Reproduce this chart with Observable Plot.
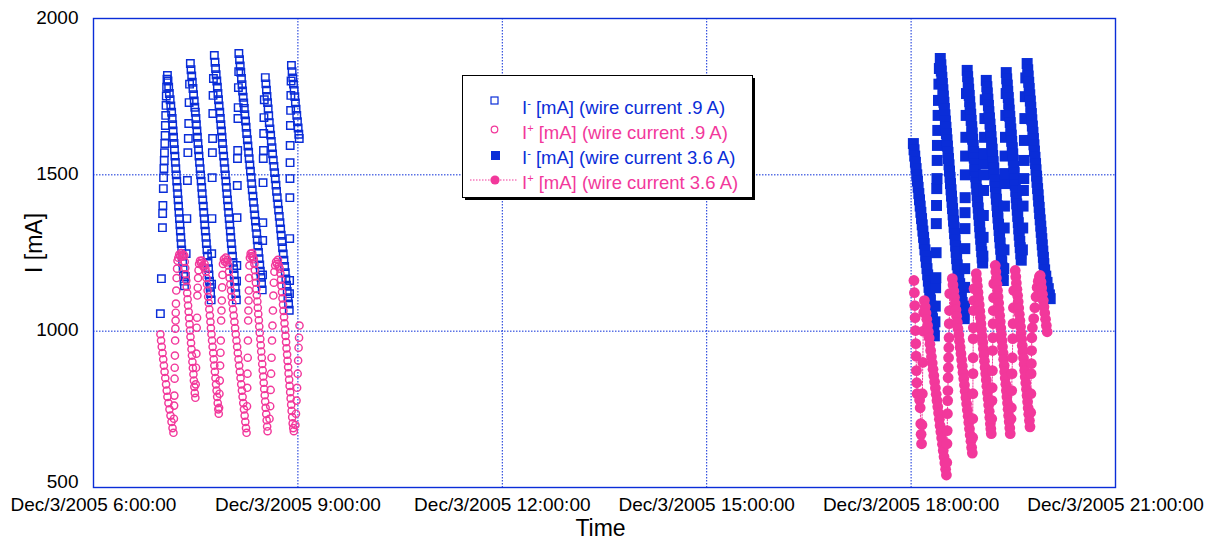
<!DOCTYPE html>
<html>
<head>
<meta charset="utf-8">
<script src="https://cdn.jsdelivr.net/npm/d3@7"></script>
<script src="https://cdn.jsdelivr.net/npm/@observablehq/plot@0.6"></script>
<style>
  body { margin: 0; background: #fff; }
  #chart { position: relative; width: 1207px; height: 542px; font-family: "Liberation Sans", Arial, Helvetica, sans-serif; }
  #legend { position: absolute; left: 0; top: 0; pointer-events: none; }
</style>
</head>
<body>
<div id="chart"></div>
<script>
// Time values are minutes after Dec/3/2005 6:00:00; currents in mA.

// I- at wire current 0.9 A (open squares)
const iMinus09 = [
  [58.9,1056],[59.8,1168],[60.7,1331],[60.9,1376],[61.1,1402],[61.5,1456],[61.7,1491],[62.0,1520],[62.3,1546],[62.5,1571],[62.8,1600],[63.1,1626],[63.3,1658],[63.6,1690],[63.9,1722],[64.1,1752],[64.4,1780],[64.7,1806],
  [65.1,1818],[65.6,1800],[66.2,1780],[66.8,1760],[67.5,1740],[68.1,1720],[68.8,1700],[69.3,1680],[69.7,1660],[70.1,1640],[70.5,1620],[70.9,1600],[71.3,1580],[71.7,1560],[72.1,1540],[72.5,1520],[72.9,1500],[73.3,1480],[73.7,1460],[74.1,1440],[74.5,1420],[74.9,1400],[75.3,1380],[75.7,1360],[76.1,1340],[76.5,1320],[76.9,1300],[77.3,1280],[77.7,1260],[78.1,1240],[78.5,1220],[78.9,1200],[79.3,1180],[79.7,1160],[80.1,1145],
  [80.9,1175],[81.6,1248],[82.2,1360],[82.7,1482],[83.1,1571],[83.5,1616],[83.9,1664],[84.2,1731],[84.6,1790],
  [85.3,1856],[85.9,1836],[86.5,1816],[87.0,1796],[87.6,1776],[88.1,1756],[88.7,1736],[89.2,1716],[89.7,1700],[90.2,1680],[90.6,1660],[91.1,1640],[91.5,1620],[92.0,1600],[92.5,1580],[92.9,1560],[93.4,1540],[93.9,1520],[94.3,1500],[94.8,1480],[95.3,1460],[95.7,1440],[96.2,1420],[96.7,1400],[97.1,1380],[97.6,1360],[98.0,1340],[98.5,1320],[99.0,1300],[99.4,1280],[99.9,1260],[100.4,1240],[100.8,1220],[101.3,1200],[101.7,1180],[102.2,1160],[102.7,1140],[103.1,1120],[103.6,1100],
  [104.0,1150],[104.1,1248],[104.3,1360],[104.5,1491],[104.7,1571],[104.9,1616],[105.1,1696],[105.3,1754],[105.6,1808],
  [106.4,1882],[107.0,1860],[107.5,1840],[108.0,1820],[108.6,1800],[109.1,1780],[109.6,1760],[110.1,1740],[110.6,1720],[111.2,1700],[111.7,1680],[112.2,1660],[112.7,1640],[113.2,1620],[113.6,1600],[114.1,1580],[114.6,1560],[115.1,1540],[115.6,1520],[116.1,1500],[116.6,1480],[117.0,1460],[117.5,1440],[118.0,1420],[118.5,1400],[119.0,1380],[119.5,1360],[120.0,1340],[120.5,1320],[120.9,1300],[121.4,1280],[121.9,1260],[122.4,1240],[122.9,1220],[123.4,1200],[123.9,1180],[124.3,1160],[124.8,1140],[125.3,1120],[125.8,1100],
  [126.0,1160],[126.2,1210],[126.4,1363],[126.6,1466],[126.8,1552],[127.0,1578],[127.2,1680],[127.4,1715],[127.6,1779],[127.9,1830],
  [128.0,1888],[128.6,1868],[129.2,1848],[129.7,1828],[130.3,1808],[130.8,1788],[131.3,1768],[131.8,1748],[132.3,1730],[132.8,1712],[133.3,1692],[133.9,1672],[134.4,1652],[134.9,1632],[135.5,1612],[136.0,1592],[136.6,1572],[137.1,1552],[137.7,1532],[138.2,1512],[138.8,1492],[139.3,1472],[139.8,1452],[140.4,1432],[140.9,1412],[141.5,1392],[142.0,1372],[142.6,1352],[143.1,1332],[143.7,1312],[144.2,1292],[144.7,1272],[145.3,1252],[145.8,1232],[146.4,1212],[146.9,1192],[147.5,1172],[148.0,1152],[148.6,1132],
  [148.9,1180],[149.0,1290],[149.1,1347],[149.3,1475],[149.5,1552],[149.7,1578],[149.9,1632],[150.1,1683],[150.4,1740],
  [151.3,1811],[151.8,1791],[152.3,1771],[152.8,1751],[153.3,1731],[153.8,1711],[154.3,1689],[154.8,1667],[155.4,1647],[156.0,1627],[156.6,1607],[157.2,1587],[157.7,1567],[158.3,1547],[158.9,1527],[159.5,1507],[160.1,1487],[160.7,1467],[161.2,1447],[161.8,1427],[162.4,1407],[163.0,1387],[163.6,1367],[164.2,1347],[164.8,1327],[165.3,1307],[165.9,1287],[166.5,1267],[167.1,1247],[167.7,1227],[168.3,1207],[168.9,1187],[169.4,1167],[170.0,1147],[170.6,1127],[171.2,1107],[171.8,1087],[172.4,1067],
  [172.6,1120],[172.7,1162],[172.8,1296],[172.9,1427],[173.0,1488],[173.1,1539],[173.2,1594],[173.4,1658],[173.6,1706],[173.8,1754],[174.0,1800],
  [174.3,1850],[174.9,1830],[175.5,1810],[176.1,1790],[176.7,1770],[177.3,1750],[177.8,1730],[178.4,1710],[179.0,1690],[179.6,1670],[180.2,1650],[180.8,1630],[181.2,1616]
];

// I+ at wire current 0.9 A (open circles)
const iPlus09 = [
  [58.9,990],[59.5,970],[60.1,950],[60.8,930],[61.4,910],[62.0,890],[62.6,870],[63.2,850],[63.9,830],[64.5,810],[65.1,790],[66.0,770],[66.9,750],[67.8,730],[68.7,710],[69.6,690],[70.4,675],
  [70.8,720],[71.0,762],[71.2,794],[71.4,848],[71.5,883],[71.7,922],[71.9,970],[72.1,1008],[72.3,1034],[72.4,1059],[72.6,1088],[72.9,1130],[73.2,1170],[73.6,1200],[74.0,1225],
  [74.7,1235],[75.5,1245],[76.4,1240],[77.2,1250],[78.1,1238],[79.0,1245],[79.9,1242],
  [80.4,1222],[80.8,1202],[81.2,1182],[81.7,1162],[82.1,1142],[82.5,1122],[82.9,1102],[83.3,1082],[83.8,1062],[84.2,1042],[84.6,1022],[85.0,1002],[85.4,982],[85.9,962],[86.3,942],[86.7,922],[87.1,902],[87.5,882],[88.0,862],[88.4,842],[88.8,822],[89.2,802],[89.7,787],
  [90.0,830],[90.3,883],[90.6,928],[90.9,1011],[91.2,1043],[91.5,1114],[91.8,1139],[92.1,1170],[92.5,1195],
  [93.0,1215],[93.8,1225],[94.6,1218],[95.4,1226],[96.2,1210],[97.0,1205],[97.8,1215],
  [98.5,1200],[99.0,1190],[99.5,1170],[100.0,1150],[100.5,1130],[101.0,1110],[101.5,1090],[102.0,1070],[102.5,1050],[103.0,1030],[103.4,1010],[103.9,990],[104.4,970],[104.9,950],[105.4,930],[105.9,910],[106.4,890],[106.9,870],[107.4,850],[107.9,830],[108.4,810],[108.9,790],[109.4,770],[109.9,750],[110.3,736],
  [110.6,755],[110.9,800],[111.2,842],[111.5,890],[111.8,931],[112.1,970],[112.4,1034],[112.7,1066],[113.0,1098],[113.3,1140],[113.6,1180],
  [114.0,1215],[114.8,1230],[115.6,1222],[116.4,1235],[117.2,1220],[118.0,1228],[118.8,1210],
  [119.3,1190],[119.9,1170],[120.5,1150],[121.1,1130],[121.7,1110],[122.3,1090],[122.9,1070],[123.5,1050],[124.1,1030],[124.7,1010],[125.3,990],[125.9,970],[126.5,950],[127.1,930],[127.7,910],[128.3,890],[128.9,870],[129.5,850],[130.1,830],[130.7,810],[131.3,790],[131.9,770],[132.5,750],[133.1,730],[133.7,710],[134.3,690],[134.8,675],
  [135.2,760],[135.4,819],[135.6,864],[135.8,915],[136.0,970],[136.2,1034],[136.4,1066],[136.6,1098],[136.8,1130],[137.0,1170],[137.3,1210],
  [137.7,1235],[138.4,1248],[139.1,1240],[139.8,1250],[140.5,1236],[141.2,1230],
  [141.7,1215],[142.1,1195],[142.5,1175],[143.0,1155],[143.4,1135],[143.8,1115],[144.3,1095],[144.7,1075],[145.1,1055],[145.6,1035],[146.0,1015],[146.4,995],[146.9,975],[147.3,955],[147.7,935],[148.2,915],[148.6,895],[149.0,875],[149.5,855],[149.9,835],[150.3,815],[150.8,795],[151.2,775],[151.6,755],[152.1,735],[152.5,715],[152.9,695],[153.3,680],
  [155.0,720],[155.6,760],[156.0,812],[156.4,864],[156.8,915],[157.2,970],[157.6,1018],[158.0,1066],[158.4,1114],[158.8,1155],[159.3,1190],
  [160.0,1210],[160.8,1222],[161.6,1215],[162.4,1228],[163.2,1210],[164.0,1200],
  [164.6,1185],[165.1,1165],[165.5,1145],[166.0,1125],[166.4,1105],[166.9,1085],[167.3,1065],[167.8,1045],[168.2,1025],[168.7,1005],[169.1,985],[169.6,965],[170.0,945],[170.5,925],[170.9,905],[171.4,885],[171.8,865],[172.3,845],[172.7,825],[173.2,805],[173.6,785],[174.1,765],[174.5,745],[175.0,725],[175.4,705],[175.9,690],[176.4,680],
  [177.8,700],[178.3,736],[178.8,778],[179.3,819],[179.8,864],[180.2,906],[180.6,947],[181.0,979],[181.4,1018]
];

// I- at wire current 3.6 A (filled squares)
const iMinus36 = [
  [722.0,1600],[722.6,1580],[723.2,1560],[723.8,1540],[724.4,1520],[725.0,1500],[725.6,1480],[726.2,1460],[726.8,1440],[727.4,1420],[728.0,1400],[728.6,1380],[729.2,1360],[729.8,1340],[730.4,1320],[731.0,1300],[731.6,1280],[732.2,1260],[732.8,1240],[733.4,1220],[734.0,1200],[734.6,1180],[735.2,1160],[735.8,1140],[736.4,1120],[737.0,1100],[737.6,1080],[738.2,1060],[738.8,1040],[739.4,1020],[740.0,1000],[740.5,985],
  [741.0,1030],[741.3,1080],[741.6,1139],[741.8,1171],[742.0,1251],[742.2,1344],[742.4,1402],[742.6,1456],[742.8,1488],[743.0,1546],[743.2,1594],[743.5,1642],[743.8,1690],[744.1,1738],[744.5,1790],[744.9,1840],
  [745.7,1872],[746.2,1852],[746.6,1832],[747.1,1812],[747.5,1792],[748.0,1772],[748.4,1752],[748.9,1732],[749.3,1712],[749.8,1692],[750.2,1672],[750.7,1652],[751.1,1632],[751.6,1612],[752.0,1592],[752.5,1572],[752.9,1552],[753.4,1532],[753.8,1512],[754.3,1492],[754.7,1472],[755.2,1452],[755.6,1432],[756.1,1412],[756.5,1392],[757.0,1372],[757.4,1352],[757.9,1332],[758.3,1312],[758.8,1292],[759.2,1272],[759.7,1252],[760.1,1232],[760.6,1212],[761.3,1192],[762.0,1172],[762.8,1152],[763.5,1132],[764.3,1112],[765.0,1092],[765.8,1072],[766.5,1052],[766.8,1040],
  [767.0,1080],[767.1,1140],[767.2,1200],[767.3,1264],[767.4,1328],[767.5,1379],[767.6,1427],[767.8,1500],[768.0,1560],[768.2,1620],[768.5,1690],[768.8,1760],
  [769.4,1834],[769.8,1814],[770.3,1794],[770.7,1774],[771.2,1754],[771.6,1734],[772.0,1714],[772.5,1694],[772.9,1674],[773.4,1654],[773.8,1634],[774.2,1614],[774.7,1594],[775.1,1574],[775.6,1554],[776.0,1534],[776.4,1514],[776.9,1494],[777.3,1474],[777.8,1454],[778.2,1434],[778.6,1414],[779.1,1394],[779.5,1374],[780.0,1354],[780.4,1334],[780.8,1314],[781.3,1294],[781.7,1274],[782.2,1254],[782.6,1234],[783.0,1218],
  [783.2,1240],[783.4,1300],[783.6,1370],[783.8,1450],[784.0,1500],[784.2,1536],[784.4,1568],[784.7,1620],[785.0,1680],[785.3,1740],
  [786.2,1802],[786.7,1782],[787.1,1762],[787.6,1742],[788.1,1722],[788.5,1702],[789.0,1682],[789.5,1662],[790.0,1642],[790.4,1622],[790.9,1602],[791.4,1582],[791.8,1562],[792.3,1542],[792.8,1522],[793.2,1502],[793.7,1482],[794.2,1462],[794.7,1442],[795.1,1422],[795.6,1402],[796.1,1382],[796.5,1362],[797.0,1342],[797.5,1322],[797.9,1302],[798.4,1282],[798.9,1262],[799.4,1242],[799.8,1222],[800.3,1202],[800.8,1182],[801.2,1162],
  [801.6,1200],[801.8,1260],[802.0,1330],[802.2,1400],[802.4,1472],[802.6,1504],[802.8,1560],[803.1,1620],[803.4,1690],[803.7,1760],
  [803.8,1827],[804.2,1807],[804.7,1787],[805.1,1767],[805.6,1747],[806.0,1727],[806.4,1707],[806.9,1687],[807.3,1667],[807.8,1647],[808.2,1627],[808.6,1607],[809.1,1587],[809.5,1567],[810.0,1547],[810.4,1527],[810.8,1507],[811.3,1487],[811.7,1467],[812.2,1447],[812.6,1427],[813.0,1407],[813.5,1387],[813.9,1367],[814.4,1347],[814.8,1327],[815.2,1307],[815.7,1287],[816.1,1267],[816.6,1247],[817.0,1227],
  [818.0,1260],[818.3,1330],[818.6,1400],[818.9,1450],[819.2,1488],[819.5,1546],[819.8,1610],[820.2,1680],[820.6,1750],[821.0,1810],
  [822.2,1856],[822.7,1836],[823.1,1816],[823.6,1796],[824.0,1776],[824.5,1756],[825.0,1736],[825.4,1716],[825.9,1696],[826.3,1676],[826.8,1656],[827.3,1636],[827.7,1616],[828.2,1596],[828.6,1576],[829.1,1556],[829.6,1536],[830.0,1516],[830.5,1496],[830.9,1476],[831.4,1456],[831.9,1436],[832.3,1416],[832.8,1396],[833.2,1376],[833.7,1356],[834.2,1336],[834.6,1316],[835.1,1296],[835.5,1276],[836.0,1256],[836.5,1236],[836.9,1216],[837.6,1196],[838.6,1176],[839.7,1156],[840.8,1136],[841.8,1116],[842.5,1104]
];

// I+ at wire current 3.6 A (filled circles joined by a dotted line)
const iPlus36 = [
  [722.5,1162],[722.9,1123],[723.2,1082],[723.5,1043],[723.8,1002],[724.1,960],[724.4,920],[724.7,874],[725.0,835],[725.3,800],[727.5,780],[728.0,755],[728.5,704],[728.8,670],[729.2,640],
  [729.6,700],[729.9,800],[730.3,900],[730.7,1000],[731.1,1060],
  [731.7,1098],[732.4,1078],[733.1,1058],[733.8,1038],[734.5,1018],[735.2,998],[735.9,978],[736.6,958],[737.2,938],[737.9,918],[738.6,898],[739.3,878],[740.0,858],[740.7,838],[741.4,818],[742.1,798],[742.8,778],[743.5,758],[744.2,738],[744.9,718],[745.5,698],[746.2,678],[746.9,658],[747.6,638],[748.3,618],[749.0,598],[749.7,578],[750.4,558],[751.1,540],
  [751.4,580],[751.6,640],[751.8,682],[752.0,736],[752.2,778],[752.4,810],[752.6,851],[752.8,883],[753.0,915],[753.2,947],[753.4,979],[753.6,1024],[753.8,1066],[754.0,1120],
  [756.3,1168],[756.9,1148],[757.6,1128],[758.2,1108],[758.8,1088],[759.5,1068],[760.1,1048],[760.7,1028],[761.3,1008],[762.0,988],[762.6,968],[763.2,948],[763.9,928],[764.5,908],[765.1,888],[765.7,868],[766.4,848],[767.0,828],[767.6,808],[768.3,788],[768.9,768],[769.5,748],[770.2,728],[770.8,708],[771.4,688],[772.0,668],[772.7,648],[773.3,628],[773.9,610],
  [774.2,660],[774.3,720],[774.4,800],[774.5,864],[774.6,915],[774.7,976],[774.8,1011],[775.0,1066],[775.2,1098],[775.4,1136],
  [777.4,1184],[777.9,1164],[778.4,1144],[778.9,1124],[779.4,1104],[780.0,1084],[780.5,1064],[781.0,1044],[781.5,1024],[782.0,1004],[782.6,984],[783.1,964],[783.6,944],[784.1,924],[784.6,904],[785.2,884],[785.7,864],[786.2,844],[786.7,824],[787.2,804],[787.8,784],[788.3,764],[788.8,744],[789.3,724],[789.8,704],[790.2,688],[790.6,672],
  [791.0,720],[791.2,778],[791.4,819],[791.6,874],[791.8,938],[792.0,979],[792.2,1024],[792.4,1066],[792.6,1107],[792.8,1152],
  [794.1,1210],[794.6,1190],[795.1,1170],[795.6,1150],[796.1,1130],[796.6,1110],[797.1,1090],[797.5,1070],[798.0,1050],[798.5,1030],[799.0,1010],[799.5,990],[800.0,970],[800.5,950],[801.0,930],[801.5,910],[802.0,890],[802.4,870],[802.9,850],[803.4,830],[803.9,810],[804.4,790],[804.9,770],[805.4,750],[805.9,730],[806.4,710],[806.9,690],[807.3,672],
  [808.0,720],[808.3,755],[808.6,810],[808.9,864],[809.2,915],[809.5,976],[809.8,1024],[810.1,1075],[810.4,1130],
  [811.7,1194],[812.2,1174],[812.7,1154],[813.2,1134],[813.8,1114],[814.3,1094],[814.8,1074],[815.3,1054],[815.8,1034],[816.4,1014],[816.9,994],[817.4,974],[817.9,954],[818.4,934],[819.0,914],[819.5,894],[820.0,874],[820.5,854],[821.0,834],[821.6,814],[822.1,794],[822.6,774],[823.1,754],[823.6,734],[824.2,714],[824.7,694],
  [825.3,740],[825.5,800],[825.7,864],[825.9,896],[826.1,938],[826.3,979],[826.8,1011],[828.0,1040],[829.0,1075],[830.0,1110],[831.0,1140],[832.0,1160],[833.0,1175],
  [833.7,1178],[834.4,1158],[835.0,1138],[835.7,1118],[836.4,1098],[837.0,1078],[837.7,1058],[838.4,1038],[839.1,1018],[839.8,998]
];

// Axis ticks and labels
const tickHours = [6, 9, 12, 15, 18, 21];
const tickLabels = ["Dec/3/2005 6:00:00", "Dec/3/2005 9:00:00", "Dec/3/2005 12:00:00", "Dec/3/2005 15:00:00", "Dec/3/2005 18:00:00", "Dec/3/2005 21:00:00"];
const gridHours = [9, 12, 15, 18];
const yTicksUpper = [1000, 1500, 2000];
const yTicksLower = [500];
const yGrid = [1000, 1500];

const legendLabels = [
  {sup: "-", rest: " [mA] (wire current .9 A)"},
  {sup: "+", rest: " [mA] (wire current .9 A)"},
  {sup: "-", rest: " [mA] (wire current 3.6 A)"},
  {sup: "+", rest: " [mA] (wire current 3.6 A)"}
];

const blue = "#0a2dd8";
const pink = "#f2389b";
const t0 = Date.UTC(2005, 11, 3, 6, 0, 0);
const at = (minutes) => new Date(t0 + minutes * 60000);
const rows = (arr) => arr.map(([m, v]) => ({time: at(m), value: v}));

const minus09 = rows(iMinus09);
const plus09 = rows(iPlus09);
const minus36 = rows(iMinus36);
const plus36 = rows(iPlus36);

const yAxisStyle = {tickSize: 0, tickPadding: 15, tickFormat: d => String(d), label: null, fontSize: 19};

const plot = Plot.plot({
  width: 1207,
  height: 542,
  marginLeft: 93,
  marginRight: 92,
  marginTop: 18,
  marginBottom: 55,
  style: {fontFamily: "'Liberation Sans', Arial, Helvetica, sans-serif", fontSize: "19px", color: "#000", background: "#fff"},
  x: {
    type: "utc",
    domain: [at(0), at(900)],
    ticks: tickHours.map(h => at((h - 6) * 60)),
    tickFormat: d => tickLabels[tickHours.indexOf(d.getUTCHours())],
    tickSize: 0,
    tickPadding: 10,
    label: null
  },
  y: {domain: [500, 2000]},
  marks: [
    Plot.gridX(gridHours.map(h => at((h - 6) * 60)), {stroke: blue, strokeOpacity: 1, strokeWidth: 1, strokeDasharray: "1.5,1.5"}),
    Plot.gridY(yGrid, {stroke: blue, strokeOpacity: 1, strokeWidth: 1, strokeDasharray: "1.5,1.5"}),
    Plot.axisY(yTicksUpper, {...yAxisStyle, dy: -1}),
    Plot.axisY(yTicksLower, {...yAxisStyle, dy: -6}),
    Plot.dot(minus09, {x: "time", y: "value", symbol: "square", r: 4.2, fill: "none", stroke: blue, strokeWidth: 1.45}),
    Plot.dot(plus09, {x: "time", y: "value", symbol: "circle", r: 3.6, fill: "none", stroke: pink, strokeWidth: 1.45}),
    Plot.dot(minus36, {x: "time", y: "value", symbol: "square", r: 6.2, fill: blue, stroke: "none"}),
    Plot.line(plus36, {x: "time", y: "value", stroke: pink, strokeWidth: 1, strokeDasharray: "1.5,1.5"}),
    Plot.dot(plus36, {x: "time", y: "value", symbol: "circle", r: 5.4, fill: pink, stroke: "none"}),
    Plot.frame({stroke: blue, strokeWidth: 1.4}),
    Plot.text(["I [mA]"], {text: d => d, frameAnchor: "left", textAnchor: "middle", lineAnchor: "middle", dx: -59, dy: -10, rotate: -90, fontSize: 23}),
    Plot.text(["Time"], {text: d => d, frameAnchor: "bottom", textAnchor: "middle", lineAnchor: "middle", dx: -4, dy: 41, fontSize: 23})
  ]
});

const chart = document.getElementById("chart");
chart.append(plot);

// Legend box drawn over the plot area
const leg = d3.select(chart).append("svg")
  .attr("id", "legend")
  .attr("width", 1207)
  .attr("height", 542)
  .style("font-family", "'Liberation Sans', Arial, Helvetica, sans-serif");

leg.append("rect").attr("x", 465).attr("y", 78).attr("width", 290).attr("height", 122).attr("fill", "#000");
leg.append("rect").attr("x", 462.5).attr("y", 75.5).attr("width", 290).attr("height", 122).attr("fill", "#fff").attr("stroke", "#000").attr("stroke-width", 1);

const legendColors = [blue, pink, blue, pink];
const baselines = [114, 138.5, 164, 188.5];

// legend symbols
leg.append("rect").attr("x", 491).attr("y", 97).attr("width", 7).attr("height", 7).attr("fill", "none").attr("stroke", blue).attr("stroke-width", 1.2);
leg.append("circle").attr("cx", 494.5).attr("cy", 129.5).attr("r", 3.3).attr("fill", "none").attr("stroke", pink).attr("stroke-width", 1.2);
leg.append("rect").attr("x", 491).attr("y", 151).attr("width", 9).attr("height", 9).attr("fill", blue);
leg.append("line").attr("x1", 470).attr("x2", 518).attr("y1", 180).attr("y2", 180).attr("stroke", pink).attr("stroke-width", 1).attr("stroke-dasharray", "1.5,1.5");
leg.append("circle").attr("cx", 495).attr("cy", 180).attr("r", 4.6).attr("fill", pink);

legendLabels.forEach((d, i) => {
  const t = leg.append("text").attr("x", 522).attr("y", baselines[i]).attr("font-size", 18.5).attr("fill", legendColors[i]);
  t.append("tspan").text("I");
  t.append("tspan").attr("dy", -7).attr("font-size", 11).text(d.sup);
  t.append("tspan").attr("dy", 7).text(d.rest);
});
</script>
</body>
</html>
